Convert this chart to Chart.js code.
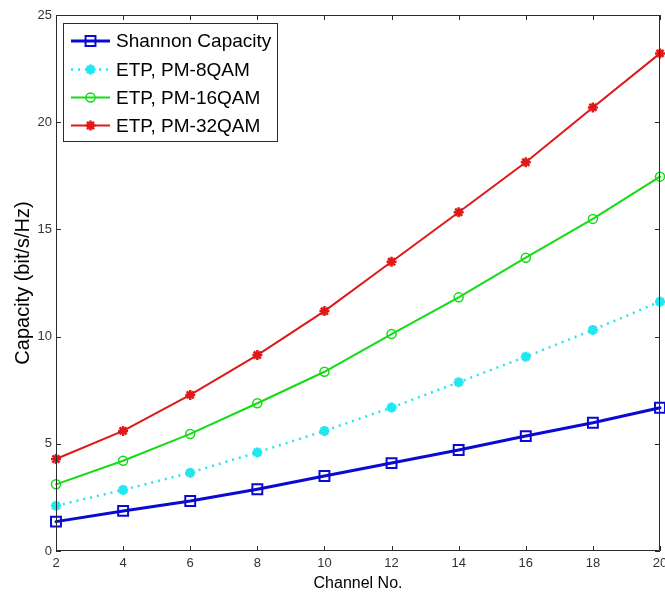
<!DOCTYPE html>
<html>
<head>
<meta charset="utf-8">
<script src="https://cdn.jsdelivr.net/npm/chart.js@4.4.1/dist/chart.umd.min.js"></script>
<style>
    html, body { margin: 0; padding: 0; background: #fff; }
    #wrap { width: 665px; height: 600px; }
</style>
</head>
<body>
<div id="wrap"><canvas id="capacity-chart" width="665" height="600"></canvas></div>
<script>
// Channel count vs. capacity for Shannon bound and ETP with PM-xQAM
const channels = [2, 4, 6, 8, 10, 12, 14, 16, 18, 20];
const shannon  = [1.37, 1.87, 2.33, 2.88, 3.50, 4.10, 4.71, 5.36, 5.98, 6.68];
const pm8qam   = [2.11, 2.85, 3.65, 4.60, 5.60, 6.69, 7.87, 9.06, 10.31, 11.63];
const pm16qam  = [3.11, 4.21, 5.46, 6.89, 8.36, 10.12, 11.83, 13.68, 15.49, 17.46];
const pm32qam  = [4.29, 5.60, 7.28, 9.14, 11.19, 13.49, 15.80, 18.13, 20.69, 23.21];

const xTicks = [2, 4, 6, 8, 10, 12, 14, 16, 18, 20];
const yTicks = [0, 5, 10, 15, 20, 25];

const seriesLabels = ['Shannon Capacity', 'ETP, PM-8QAM', 'ETP, PM-16QAM', 'ETP, PM-32QAM'];

const toPoints = (ys) => channels.map((c, i) => ({ x: c, y: ys[i] }));

const AXIS_COLOR = '#2b2b2b';
const TICK_FONT = { family: '"Liberation Sans Narrow", "Arial Narrow", "Liberation Sans", Arial, sans-serif', size: 13 };

// --- PLUGIN: kotak sumbu + tick ke dalam (gaya MATLAB) ---
const boxTicks = {
    id: 'boxTicks',
    afterDatasetsDraw(chart) {
        const { ctx, chartArea: a, scales } = chart;
        const len = 5;
        ctx.save();
        ctx.strokeStyle = AXIS_COLOR;
        ctx.lineWidth = 1;
        ctx.beginPath();
        ctx.rect(a.left + 0.5, a.top + 0.5, a.right - a.left - 1, a.bottom - a.top - 1);
        xTicks.forEach(v => {
            const px = Math.round(scales.x.getPixelForValue(v)) + 0.5;
            ctx.moveTo(px, a.bottom); ctx.lineTo(px, a.bottom - len);
            ctx.moveTo(px, a.top); ctx.lineTo(px, a.top + len);
        });
        yTicks.forEach(v => {
            const py = Math.round(scales.y.getPixelForValue(v)) + 0.5;
            ctx.moveTo(a.left, py); ctx.lineTo(a.left + len, py);
            ctx.moveTo(a.right, py); ctx.lineTo(a.right - len, py);
        });
        ctx.stroke();
        ctx.restore();
    }
};

// --- PLUGIN: legenda dalam kotak, garis + marker ---
const boxLegend = {
    id: 'boxLegend',
    afterDraw(chart) {
        const { ctx } = chart;
        const box = { x: 63.5, y: 23.5, w: 214, h: 118 };
        const rowY = [41, 69.5, 97.5, 125.5];
        ctx.save();
        ctx.fillStyle = '#fff';
        ctx.strokeStyle = AXIS_COLOR;
        ctx.lineWidth = 1;
        ctx.fillRect(box.x, box.y, box.w, box.h);
        ctx.strokeRect(box.x, box.y, box.w, box.h);

        chart.data.datasets.forEach((ds, i) => {
            const y = rowY[i];
            ctx.save();
            ctx.strokeStyle = ds.borderColor;
            ctx.lineWidth = ds.borderWidth;
            ctx.lineCap = 'butt';
            ctx.setLineDash(ds.borderDash || []);
            ctx.beginPath();
            ctx.moveTo(71, y);
            ctx.lineTo(110, y);
            ctx.stroke();
            ctx.restore();

            ctx.save();
            ctx.strokeStyle = ds.pointBorderColor;
            ctx.fillStyle = ds.pointBackgroundColor;
            ctx.lineWidth = ds.pointBorderWidth;
            Chart.helpers.drawPoint(ctx, {
                pointStyle: ds.pointStyle,
                radius: ds.pointRadius,
                rotation: 0,
                borderWidth: ds.pointBorderWidth
            }, 90.5, y);
            ctx.restore();

            ctx.fillStyle = '#000';
            ctx.font = '19px "Liberation Sans", Arial, sans-serif';
            ctx.textBaseline = 'middle';
            ctx.fillText(ds.label, 116, y + 1);
        });
        ctx.restore();
    }
};

function makeDataset(label, values, color, opts) {
    return Object.assign({
        label,
        data: toPoints(values),
        borderColor: color,
        backgroundColor: color,
        pointBorderColor: color,
        pointBackgroundColor: 'rgba(0,0,0,0)',
        borderWidth: 2,
        pointBorderWidth: 1.5,
        tension: 0,
        clip: false,
    }, opts);
}

const datasets = [
    makeDataset(seriesLabels[0], shannon, '#0a0ad2', {
        borderWidth: 3, pointStyle: 'rect', pointRadius: 7, pointBorderWidth: 2
    }),
    makeDataset(seriesLabels[1], pm8qam, '#22e6f0', {
        borderWidth: 2.5, borderDash: [2, 5], borderCapStyle: 'butt',
        pointStyle: 'star', pointRadius: 5, pointBorderWidth: 3
    }),
    makeDataset(seriesLabels[2], pm16qam, '#14dc14', {
        borderWidth: 2, pointStyle: 'circle', pointRadius: 4.5, pointBorderWidth: 1.5
    }),
    makeDataset(seriesLabels[3], pm32qam, '#e01818', {
        borderWidth: 2, pointStyle: 'star', pointRadius: 5, pointBorderWidth: 2.5
    }),
];

new Chart(document.getElementById('capacity-chart').getContext('2d'), {
    type: 'line',
    data: { datasets },
    options: {
        responsive: false,
        animation: false,
        devicePixelRatio: 1,
        layout: { autoPadding: false, padding: { top: 15, right: 5, left: 0, bottom: 0 } },
        plugins: {
            legend: { display: false },
            tooltip: { enabled: false },
        },
        elements: { line: { borderCapStyle: 'round' } },
        scales: {
            x: {
                type: 'linear',
                min: 2,
                max: 20,
                afterBuildTicks: (scale) => { scale.ticks = xTicks.map(v => ({ value: v })); },
                afterFit: (scale) => {
                    scale.height = 49;
                    scale.paddingLeft = 0;
                    scale.paddingRight = 0;
                },
                grid: { display: false, drawTicks: false },
                border: { display: false },
                ticks: { color: '#333', font: TICK_FONT, padding: 5, maxRotation: 0, autoSkip: false },
                title: {
                    display: true,
                    text: 'Channel No.',
                    color: '#000',
                    font: { family: '"Liberation Sans", Arial, sans-serif', size: 16 },
                    padding: { top: 0, bottom: 7 },
                },
            },
            y: {
                type: 'linear',
                min: 0,
                max: 25,
                afterBuildTicks: (scale) => { scale.ticks = yTicks.map(v => ({ value: v })); },
                afterFit: (scale) => {
                    scale.width = 56;
                    scale.paddingTop = 0;
                    scale.paddingBottom = 0;
                },
                grid: { display: false, drawTicks: false },
                border: { display: false },
                ticks: { color: '#333', font: TICK_FONT, padding: 4 },
                title: {
                    display: true,
                    text: 'Capacity (bit/s/Hz)',
                    color: '#000',
                    font: { family: '"Liberation Sans", Arial, sans-serif', size: 20 },
                    padding: { top: 11, bottom: 0 },
                },
            },
        },
    },
    plugins: [boxTicks, boxLegend],
});
</script>
</body>
</html>
